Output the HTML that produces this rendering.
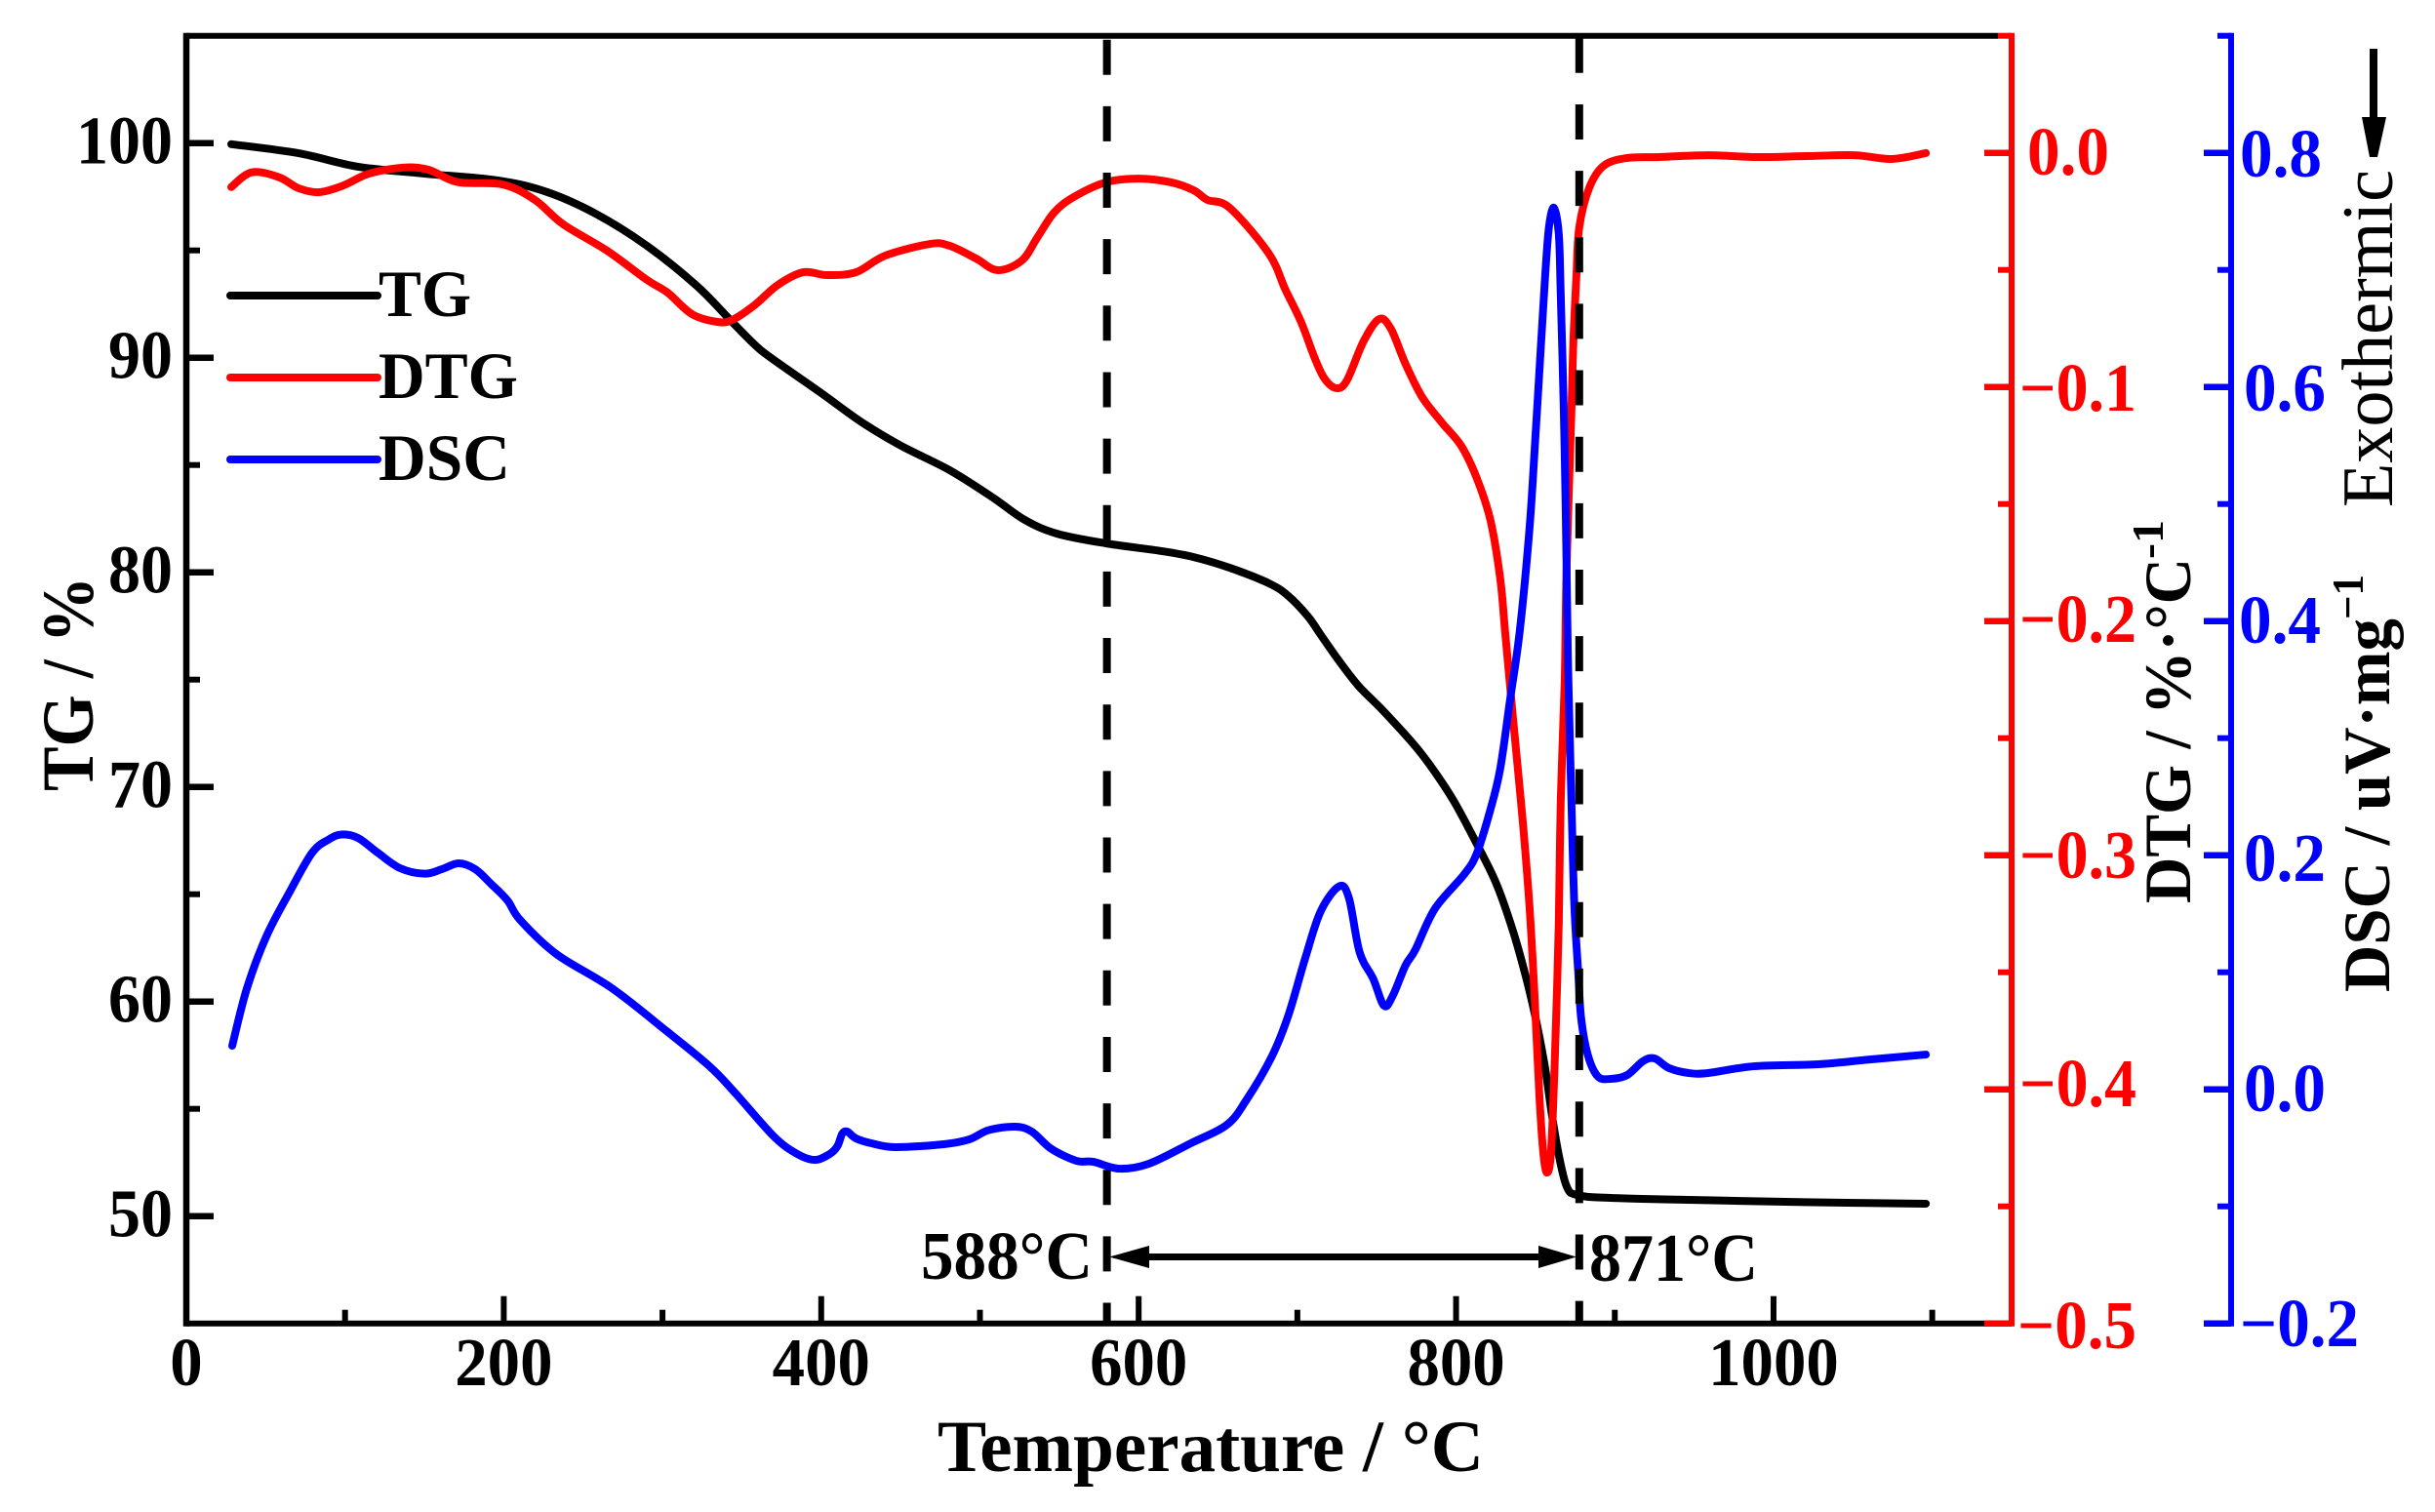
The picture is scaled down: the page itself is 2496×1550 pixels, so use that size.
<!DOCTYPE html>
<html lang="en">
<head>
<meta charset="utf-8">
<title>TG DTG DSC chart</title>
<style>
html,body{margin:0;padding:0;background:#fff;}
svg{display:block;}
text{font-family:"Liberation Serif",serif;font-weight:bold;}
</style>
</head>
<body>
<svg id="chart" xmlns="http://www.w3.org/2000/svg" width="2496" height="1550" viewBox="0 0 2496 1550">
  <rect x="0" y="0" width="2496" height="1550" fill="#fff"/>
  <g id="series"></g>
  <g id="axes"></g>

  <text x="2078" y="179" font-size="70" fill="#f00" textLength="84" lengthAdjust="spacingAndGlyphs">0.0</text>
  <text x="2190" y="421" font-size="70" fill="#f00" text-anchor="end" textLength="120" lengthAdjust="spacingAndGlyphs">−0.1</text>
  <text x="2190" y="658" font-size="70" fill="#f00" text-anchor="end" textLength="120" lengthAdjust="spacingAndGlyphs">−0.2</text>
  <text x="2190" y="900" font-size="70" fill="#f00" text-anchor="end" textLength="120" lengthAdjust="spacingAndGlyphs">−0.3</text>
  <text x="2190" y="1134" font-size="70" fill="#f00" text-anchor="end" textLength="120" lengthAdjust="spacingAndGlyphs">−0.4</text>
  <text x="2190" y="1382" font-size="70" fill="#f00" text-anchor="end" textLength="122" lengthAdjust="spacingAndGlyphs">−0.5</text>

  <text x="2296" y="181" font-size="70" fill="#00f" textLength="84" lengthAdjust="spacingAndGlyphs">0.8</text>
  <text x="2300" y="421" font-size="70" fill="#00f" textLength="84" lengthAdjust="spacingAndGlyphs">0.6</text>
  <text x="2295" y="659" font-size="70" fill="#00f" textLength="84" lengthAdjust="spacingAndGlyphs">0.4</text>
  <text x="2300" y="903" font-size="70" fill="#00f" textLength="84" lengthAdjust="spacingAndGlyphs">0.2</text>
  <text x="2300" y="1139" font-size="70" fill="#00f" textLength="84" lengthAdjust="spacingAndGlyphs">0.0</text>
  <text x="2418" y="1380" font-size="70" fill="#00f" text-anchor="end" textLength="122" lengthAdjust="spacingAndGlyphs">−0.2</text>

  <text x="961" y="1508" font-size="75" fill="#000" textLength="560" lengthAdjust="spacingAndGlyphs">Temperature / °C</text>
  <text transform="translate(95,811) rotate(-90)" font-size="75" fill="#000" textLength="220" lengthAdjust="spacingAndGlyphs">TG / %</text>
  <text transform="translate(2245,926) rotate(-90)" font-size="68" fill="#000" textLength="354" lengthAdjust="spacingAndGlyphs">DTG / %·°C</text>
  <text transform="translate(2217,573) rotate(-90)" font-size="46" fill="#000" textLength="40" lengthAdjust="spacingAndGlyphs">-1</text>
  <text transform="translate(2449,1017) rotate(-90)" font-size="68" fill="#000" textLength="383" lengthAdjust="spacingAndGlyphs">DSC / uV·mg</text>
  <text transform="translate(2422,635) rotate(-90)" font-size="46" fill="#000" textLength="46" lengthAdjust="spacingAndGlyphs">−1</text>
  <text transform="translate(2452,520) rotate(-90)" font-size="74" fill="#000" style="font-weight:normal" textLength="346" lengthAdjust="spacingAndGlyphs">Exothermic</text>

  <line x1="2433" y1="50" x2="2433" y2="124" stroke="#000" stroke-width="8"/>
  <polygon points="2421,120 2446,120 2437,161 2429,161" fill="#000"/>

  <line x1="236" y1="303" x2="387" y2="303" stroke="#000" stroke-width="8" stroke-linecap="round"/>
  <line x1="236" y1="387" x2="387" y2="387" stroke="#f00" stroke-width="8" stroke-linecap="round"/>
  <line x1="236" y1="471" x2="387" y2="471" stroke="#00f" stroke-width="8" stroke-linecap="round"/>
  <text x="388" y="324" font-size="68" fill="#000" textLength="95" lengthAdjust="spacingAndGlyphs">TG</text>
  <text x="388" y="408" font-size="68" fill="#000" textLength="143" lengthAdjust="spacingAndGlyphs">DTG</text>
  <text x="388" y="492" font-size="68" fill="#000" textLength="135" lengthAdjust="spacingAndGlyphs">DSC</text>

  <line x1="1170" y1="1288.5" x2="1585" y2="1288.5" stroke="#000" stroke-width="7"/>
  <polygon points="1137,1288.5 1178,1277 1178,1300" fill="#000"/>
  <polygon points="1616,1288.5 1577,1277 1577,1300" fill="#000"/>
  <text x="944" y="1311" font-size="70" fill="#000" textLength="176" lengthAdjust="spacingAndGlyphs">588°C</text>
  <text x="1629" y="1313" font-size="70" fill="#000" textLength="173" lengthAdjust="spacingAndGlyphs">871°C</text>
</svg>

<script>
// ---------- chart data ----------
const xMajorTicks = [0, 200, 400, 600, 800, 1000];
const xMinorTicks = [100, 300, 500, 700, 900, 1100];
const tgMajorTicks = [50, 60, 70, 80, 90, 100];
const tgMinorTicks = [55, 65, 75, 85, 95];
const dtgMajorTicks = [0, -0.1, -0.2, -0.3, -0.4, -0.5];
const dtgMinorTicks = [0.05, -0.05, -0.15, -0.25, -0.35, -0.45];
const dscMajorTicks = [0.8, 0.6, 0.4, 0.2, 0, -0.2];
const dscMinorTicks = [0.9, 0.7, 0.5, 0.3, 0.1, -0.1];
const markerTemps = [580, 877.6];

const tgTemps = [28.3,70.7,108.2,149.4,196.2,227.6,258.9,290.3,321.6,343.8,357.9,368.4,399.1,425.6,450.2,480.9,508,528.3,548.6,579.3,614.4,634.7,657.4,682,694.3,706.6,714.6,726,738.6,753.4,774.3,786.6,798.9,813,825.3,835.8,843.8,849.9,856.1,860.4,864.7,869.6,875.8,897.3,958.8,1020,1096];
const tgValues = [99.95,99.53,98.9,98.58,98.26,97.71,96.67,95.21,93.35,91.67,90.62,89.99,88.4,86.99,85.9,84.76,83.49,82.44,81.8,81.35,80.99,80.71,80.21,79.49,78.9,77.95,77.1,75.9,74.7,73.6,71.9,70.7,69.3,67.35,65.5,63.3,61.2,59.3,56.9,54.7,52.85,51.4,50.99,50.85,50.74,50.65,50.58];

const dtgTemps = [28.3,41.2,58.4,70.7,83.6,99,115,136.5,152.5,171,199.3,219.6,237.4,265.1,290.3,303.2,318.6,334.6,343.8,357.9,372.7,388.7,403.4,421.9,440.3,468.6,480.9,497.5,511.1,526.4,536.3,546.7,559,579.3,600.2,620.5,634.7,643.3,657.4,682,692.5,702.3,710.9,717.1,724.5,731.2,741.7,751.5,758.9,768.1,778.6,790.9,803.2,813,821.6,827.8,830.9,835.8,841.9,846.2,849.3,852.4,854.9,857.3,859.8,862.2,864.7,865.9,868.4,869.6,872.7,873.9,875.8,877.6,883.8,893,907.8,928,958.8,989.5,1020.3,1051,1074.4,1096];
const dtgValues = [-0.0146,-0.0083,-0.0104,-0.0151,-0.0168,-0.0139,-0.0089,-0.0063,-0.0072,-0.0125,-0.0135,-0.0201,-0.0305,-0.0418,-0.0543,-0.0597,-0.0689,-0.0722,-0.0714,-0.0651,-0.0564,-0.051,-0.0522,-0.051,-0.0439,-0.0389,-0.0397,-0.0451,-0.0501,-0.046,-0.036,-0.0255,-0.0189,-0.0126,-0.011,-0.0126,-0.016,-0.0201,-0.0235,-0.043,-0.0585,-0.0722,-0.0876,-0.0964,-0.1005,-0.0972,-0.0805,-0.071,-0.0751,-0.0901,-0.1043,-0.1151,-0.1251,-0.1389,-0.1568,-0.1818,-0.2047,-0.241,-0.2847,-0.3214,-0.3581,-0.4018,-0.4268,-0.4356,-0.4268,-0.3873,-0.3289,-0.2776,-0.2264,-0.1776,-0.1097,-0.0805,-0.0526,-0.0318,-0.0151,-0.0055,-0.0022,-0.0018,-0.001,-0.0018,-0.0014,-0.001,-0.0026,-0.0001];

const dscTemps = [28.9,38.1,50.4,65.2,79.3,89.8,97.8,108.2,120.5,134.7,150.1,161.1,171.6,182,191.9,202.3,210.3,233.1,268.1,302.6,329.6,345.6,370.2,385,396.1,405.3,410.2,413.3,416.4,421.9,431.7,446.5,477.2,493.2,505.5,522.1,532.6,544.9,560.9,571.3,587.9,606.4,632.8,655.6,667.9,683.9,694.3,704.8,714.6,726.3,732.5,739.2,747.8,754.6,760.1,768.1,774.3,786.6,805,813,821.6,827.8,834,840.1,846.2,849.9,853.6,856.1,858.5,861.6,864.7,865.9,867.8,869,870.2,870.8,872.7,874.5,877,878.8,883.1,889.3,897.3,907.8,917.6,925,934.2,946.5,958.8,987.7,1028.3,1061.5,1096];
const dscValues = [0.0372,0.086,0.1306,0.1689,0.2022,0.2135,0.2177,0.2147,0.2022,0.1889,0.1842,0.1881,0.1931,0.1881,0.1756,0.1614,0.1447,0.1156,0.0864,0.0497,0.0197,-0.0028,-0.0403,-0.0553,-0.0603,-0.0553,-0.0486,-0.0378,-0.0361,-0.0419,-0.0461,-0.0494,-0.0469,-0.0428,-0.0349,-0.0319,-0.0361,-0.0508,-0.0611,-0.0619,-0.0678,-0.0636,-0.0461,-0.0303,-0.0091,0.0281,0.0631,0.1114,0.1518,0.1734,0.1633,0.1172,0.0944,0.0714,0.08,0.1058,0.1192,0.1542,0.1835,0.2014,0.2389,0.2739,0.3327,0.3914,0.4781,0.5556,0.6389,0.6947,0.7364,0.7531,0.7306,0.6806,0.5831,0.4997,0.3914,0.3472,0.2447,0.1572,0.0989,0.0606,0.0289,0.011,0.0089,0.0122,0.0239,0.0264,0.0181,0.0139,0.0139,0.0197,0.0214,0.0256,0.0297];

// ---------- axis functions ----------
const plotLeft = 191, plotRight = 2062, blueAxisX = 2287, plotTop = 36.7, plotBottom = 1356.7;
function xScale(t) { return plotLeft + t * (plotRight - plotLeft) / 1150; }
function tgScale(v) { return plotBottom - (v - 45) * (plotBottom - plotTop) / 60; }
function dtgScale(v) { return plotBottom - (v + 0.5) * (plotBottom - plotTop) / 0.55; }
function dscScale(v) { return plotBottom - (v + 0.2) * (plotBottom - plotTop) / 1.1; }

const NS = 'http://www.w3.org/2000/svg';
const axesGroup = document.getElementById('axes');
const seriesGroup = document.getElementById('series');

function drawLine(parent, x1, y1, x2, y2, color, width) {
  const l = document.createElementNS(NS, 'line');
  l.setAttribute('x1', x1);
  l.setAttribute('y1', y1);
  l.setAttribute('x2', x2);
  l.setAttribute('y2', y2);
  l.setAttribute('stroke', color);
  l.setAttribute('stroke-width', width);
  parent.appendChild(l);
  return l;
}

function smoothPath(pts) {
  let d = 'M' + pts[0][0].toFixed(2) + ' ' + pts[0][1].toFixed(2);
  for (let i = 0; i < pts.length - 1; i++) {
    const p0 = pts[Math.max(i - 1, 0)], p1 = pts[i], p2 = pts[i + 1], p3 = pts[Math.min(i + 2, pts.length - 1)];
    const c1x = p1[0] + (p2[0] - p0[0]) / 6, c1y = p1[1] + (p2[1] - p0[1]) / 6;
    const c2x = p2[0] - (p3[0] - p1[0]) / 6, c2y = p2[1] - (p3[1] - p1[1]) / 6;
    d += 'C' + c1x.toFixed(2) + ' ' + c1y.toFixed(2) + ' ' + c2x.toFixed(2) + ' ' + c2y.toFixed(2) + ' ' + p2[0].toFixed(2) + ' ' + p2[1].toFixed(2);
  }
  return d;
}

function drawSeries(temps, values, yScale, color) {
  const pts = temps.map(function (t, i) { return [xScale(t), yScale(values[i])]; });
  const p = document.createElementNS(NS, 'path');
  p.setAttribute('d', smoothPath(pts));
  p.setAttribute('fill', 'none');
  p.setAttribute('stroke', color);
  p.setAttribute('stroke-width', '8');
  p.setAttribute('stroke-linecap', 'round');
  p.setAttribute('stroke-linejoin', 'round');
  seriesGroup.appendChild(p);
  return p;
}

// ---------- series ----------
const tgLine = drawSeries(tgTemps, tgValues, tgScale, '#000');


const dtgLine = drawSeries(dtgTemps, dtgValues, dtgScale, '#f00');


const dscLine = drawSeries(dscTemps, dscValues, dscScale, '#00f');



// ---------- dashed marker lines ----------
markerTemps.forEach(function (t, i) {
  const m = drawLine(seriesGroup, xScale(t), i === 0 ? 40.7 : 38.8, xScale(t), plotBottom, '#000', 8);
  m.setAttribute('stroke-dasharray', '36 32.15');
  
  
});

// ---------- axis frames ----------
const frameLeft = drawLine(axesGroup, plotLeft, plotTop - 3, plotLeft, plotBottom + 3, '#000', 6.5);


const frameTop = drawLine(axesGroup, plotLeft, plotTop, plotRight - 14, plotTop, '#000', 6);


const frameBottom = drawLine(axesGroup, plotLeft, plotBottom, plotRight - 28, plotBottom, '#000', 6);


const frameRed = drawLine(axesGroup, plotRight, plotTop - 3, plotRight, plotBottom + 3, '#f00', 6);


const frameBlue = drawLine(axesGroup, blueAxisX, plotTop - 3, blueAxisX, plotBottom + 3, '#00f', 6);



// ---------- ticks ----------
xMajorTicks.forEach(function (t) {
  const tick = drawLine(axesGroup, xScale(t), plotBottom, xScale(t), plotBottom - 28, '#000', 6);
  
  
  const label = document.createElementNS(NS, 'text');
  label.setAttribute('x', xScale(t));
  label.setAttribute('y', 1420);
  label.setAttribute('font-size', '70');
  label.setAttribute('text-anchor', 'middle');
  label.setAttribute('textLength', String(t).length * 33.4);
  label.setAttribute('lengthAdjust', 'spacingAndGlyphs');
  label.textContent = t;
  
  
  axesGroup.appendChild(label);
});
xMinorTicks.forEach(function (t) {
  const tick = drawLine(axesGroup, xScale(t), plotBottom, xScale(t), plotBottom - 14, '#000', 6);
  
  
});
tgMajorTicks.forEach(function (v) {
  const tick = drawLine(axesGroup, plotLeft, tgScale(v), plotLeft + 28, tgScale(v), '#000', 6.5);
  
  
  const label = document.createElementNS(NS, 'text');
  label.setAttribute('x', 177);
  label.setAttribute('y', tgScale(v) + 21);
  label.setAttribute('font-size', '70');
  label.setAttribute('text-anchor', 'end');
  label.setAttribute('textLength', String(v).length * 33);
  label.setAttribute('lengthAdjust', 'spacingAndGlyphs');
  label.textContent = v;
  
  
  axesGroup.appendChild(label);
});
tgMinorTicks.forEach(function (v) {
  const tick = drawLine(axesGroup, plotLeft, tgScale(v), plotLeft + 14, tgScale(v), '#000', 6);
  
  
});
dtgMajorTicks.forEach(function (v) {
  const tick = drawLine(axesGroup, plotRight, dtgScale(v), plotRight - 28, dtgScale(v), '#f00', 6.5);
  
  
});
dtgMinorTicks.forEach(function (v) {
  const tick = drawLine(axesGroup, plotRight, dtgScale(v), plotRight - 14, dtgScale(v), '#f00', 6);
  
  
});
dscMajorTicks.forEach(function (v) {
  const tick = drawLine(axesGroup, blueAxisX, dscScale(v), blueAxisX - 28, dscScale(v), '#00f', 6.5);
  
  
});
dscMinorTicks.forEach(function (v) {
  const tick = drawLine(axesGroup, blueAxisX, dscScale(v), blueAxisX - 14, dscScale(v), '#00f', 6);
  
  
});
</script>
</body>
</html>
